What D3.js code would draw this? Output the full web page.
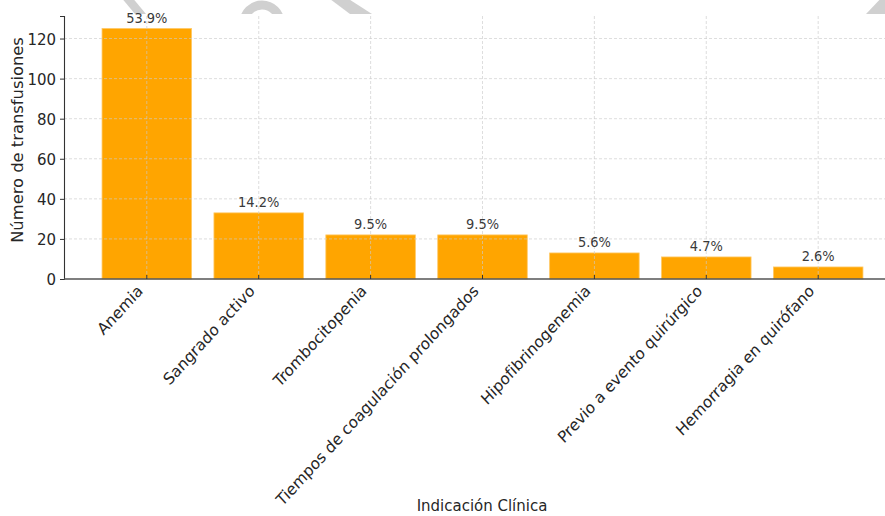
<!doctype html>
<html lang="es">
<head>
<meta charset="utf-8">
<title>Indicación Clínica</title>
<style>
  body { margin: 0; background: #fff; }
  svg { display: block; font-family: "DejaVu Sans", sans-serif; }
  .grid line { stroke: #cccccc; stroke-width: 0.8; stroke-dasharray: 3,2; }
</style>
</head>
<body>
<svg id="chart" width="885" height="516"></svg>
<script src="https://cdn.jsdelivr.net/npm/d3@7/dist/d3.min.js"></script>
<script>
  var categories = ["Anemia", "Sangrado activo", "Trombocitopenia",
      "Tiempos de coagulación prolongados", "Hipofibrinogenemia",
      "Previo a evento quirúrgico", "Hemorragia en quirófano"];
  var counts = [125, 33, 22, 22, 13, 11, 6];
  var pctLabels = ["53.9%", "14.2%", "9.5%", "9.5%", "5.6%", "4.7%", "2.6%"];
  var yTicks = [0, 20, 40, 60, 80, 100, 120];

  var svg = d3.select("#chart");
  var stretch = 1.09; // the picture is a bit taller than wide, text too

  // matplotlib-like limits: bars of width 0.8 plus 5% margin
  var x = d3.scaleLinear().domain([-0.74, 6.74]).range([64, 901]);
  var y = d3.scaleLinear().domain([0, 131.25]).range([279, 16]);
  var barW = x(0.8) - x(0);

  // watermark fragments at the very top
  var wm = svg.append("g").attr("fill", "#d0d0d0");
  wm.append("clipPath").attr("id", "wmclip")
    .append("rect").attr("x", 0).attr("y", 0).attr("width", 885).attr("height", 14);
  var wmg = wm.append("g").attr("clip-path", "url(#wmclip)");
  wmg.append("path").attr("d", "M120,-4 L131,-4 L146,14 L135,14 Z");
  wmg.append("circle").attr("cx", 262).attr("cy", 23).attr("r", 18)
    .attr("fill", "none").attr("stroke", "#d0d0d0").attr("stroke-width", 9);
  wmg.append("path").attr("d", "M326,-4 L344,-4 L372,14 L350,14 Z");
  wmg.append("path").attr("d", "M866,14 L885,-6 L885,14 Z");

  // bars
  svg.append("g").selectAll("rect")
    .data(counts)
    .enter().append("rect")
    .attr("x", function (d, i) { return x(i) - barW / 2; })
    .attr("y", function (d) { return y(d); })
    .attr("width", barW)
    .attr("height", function (d) { return y(0) - y(d); })
    .attr("fill", "#ffa500")
    .attr("stroke", "#ffc864")
    .attr("stroke-width", 0.8);

  // grid on top of bars
  var grid = svg.append("g").attr("class", "grid");
  grid.selectAll(".gy").data(yTicks.slice(1)).enter().append("line")
    .attr("x1", 64).attr("x2", 885)
    .attr("y1", function (d) { return y(d); })
    .attr("y2", function (d) { return y(d); })
    .attr("opacity", 0.8);
  grid.selectAll(".gx").data(categories).enter().append("line")
    .attr("x1", function (d, i) { return x(i); })
    .attr("x2", function (d, i) { return x(i); })
    .attr("y1", 16).attr("y2", 279)
    .attr("opacity", 0.8);

  // y axis
  var yAxis = svg.append("g")
    .attr("transform", "translate(64,0)")
    .call(d3.axisLeft(y).tickValues(yTicks).tickSize(4).tickPadding(4));
  yAxis.select(".domain").attr("stroke", "#333").attr("stroke-width", 1.1);
  yAxis.selectAll(".tick line").attr("stroke", "#333");
  yAxis.selectAll(".tick text")
    .attr("font-size", 15).attr("fill", "#262626")
    .attr("font-family", "DejaVu Sans")
    .attr("dy", null)
    .attr("y", 0)
    .attr("transform", "translate(0,5.5) scale(1," + stretch + ")");

  // x axis line and inward ticks
  svg.append("line").attr("x1", 64).attr("x2", 885)
    .attr("y1", y(0)).attr("y2", y(0))
    .attr("stroke", "#555").attr("stroke-width", 1.3);
  svg.append("g").selectAll("line").data(categories).enter().append("line")
    .attr("x1", function (d, i) { return x(i); })
    .attr("x2", function (d, i) { return x(i); })
    .attr("y1", y(0)).attr("y2", y(0) - 4)
    .attr("stroke", "#333").attr("stroke-width", 1);

  // rotated category labels
  svg.append("g").selectAll("text").data(categories).enter().append("text")
    .attr("transform", function (d, i) {
      return "translate(" + (x(i) - 3) + "," + 292 + ") scale(1," + stretch + ") rotate(-45)";
    })
    .attr("text-anchor", "end")
    .attr("font-size", 15)
    .attr("fill", "#262626")
    .text(function (d) { return d; });

  // percentage labels
  svg.append("g").selectAll("text").data(counts).enter().append("text")
    .attr("transform", function (d, i) {
      return "translate(" + x(i) + "," + (y(d) - 6) + ") scale(1," + stretch + ")";
    })
    .attr("text-anchor", "middle")
    .attr("font-size", 13)
    .attr("fill", "#3a3a3a")
    .text(function (d, i) { return pctLabels[i]; });

  // axis titles
  svg.append("text")
    .attr("transform", "translate(23,140) rotate(-90) scale(" + stretch + ",1)")
    .attr("text-anchor", "middle")
    .attr("font-size", 15)
    .attr("fill", "#262626")
    .text("Número de transfusiones");
  svg.append("text")
    .attr("transform", "translate(482,511) scale(1," + stretch + ")")
    .attr("text-anchor", "middle")
    .attr("font-size", 15)
    .attr("fill", "#262626")
    .text("Indicación Clínica");
</script>
</body>
</html>
